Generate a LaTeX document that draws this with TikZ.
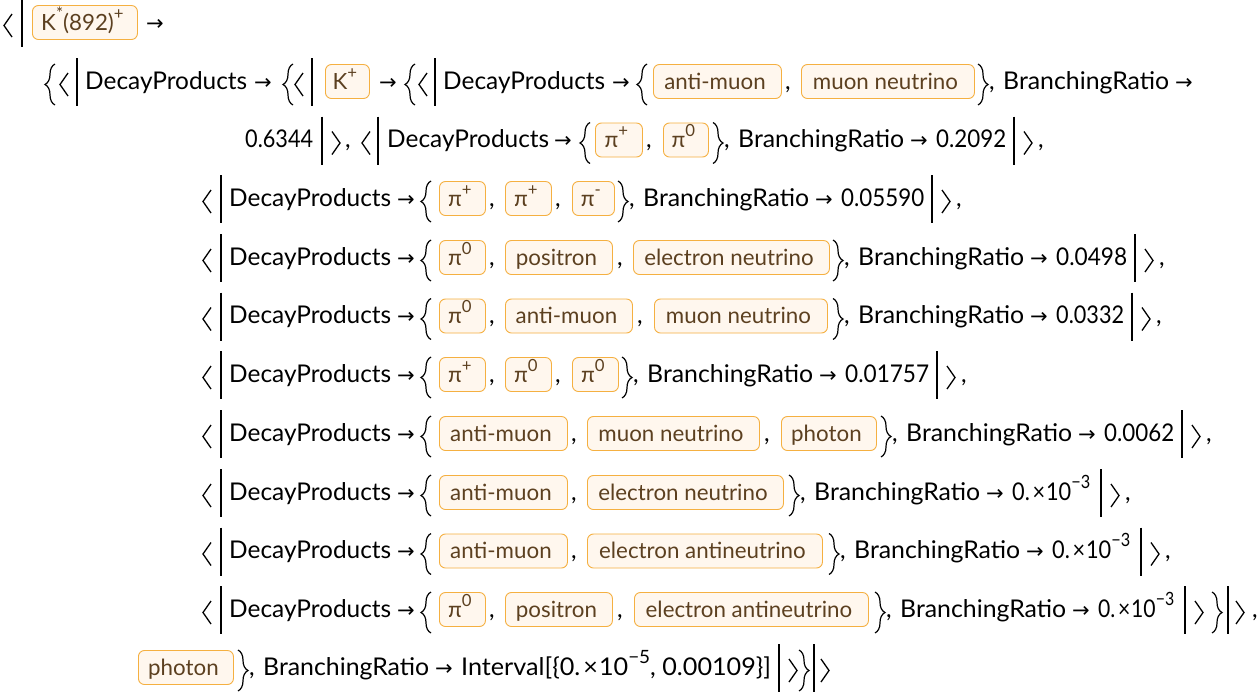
\documentclass[tikz,border=0pt]{standalone}
\usepackage{fontspec}
\setmainfont{Lato}
\newfontfamily\arrfont{DejaVu Sans}
\usetikzlibrary{decorations.pathreplacing}
\definecolor{entb}{HTML}{F5B041}
\definecolor{entf}{HTML}{FFF7EE}
\definecolor{entt}{HTML}{5C4020}
\newlength\dpw
\newlength\mnw
\newsavebox\fitbx
\newcommand\fitto[2]{\sbox\fitbx{#2}\pgfmathsetmacro\fitr{(#1)/\wd\fitbx}\scalebox{\fitr}[1]{\usebox\fitbx}}
\newcommand\sups[1]{\raisebox{0.48em}{\scalebox{0.75}{#1}}}
\newcommand\sci[1]{0.\kern3pt×\kern1pt10\sups{−#1}}
% delimiters
\newcommand\LA[2]{\draw[delim] (#1+8,#2-16) -- (#1,#2-4.5) -- (#1+8,#2+7);}
\newcommand\RA[2]{\draw[delim] (#1,#2-16) -- (#1+8,#2-4.5) -- (#1,#2+7);}
\newcommand\BAR[2]{\draw[barl] (#1,#2-31) -- (#1,#2+17);}
\newcommand\LB[2]{\draw[lbr] (#1+10,#2+16) -- (#1+10,#2-25);}
\newcommand\RB[2]{\draw[lbr] (#1,#2-25) -- (#1,#2+16);}
% texts
\newcommand\T[4]{\node[txt] (#1) at (#2,#3) {#4};}
\newcommand\A[3]{\node[arr] (#1) at (#2,#3) {→};}
\newcommand\E[5]{\node[ent, minimum width={(#3-#2)*1pt}] (#1) at (#2,#4) {#5\kern5pt};}
\newcommand\BR{\fitto{166}{BranchingRatio}}
\newcommand\HEAD[2]{\LA{203}{#2}\BAR{221}{#2}\T{#1d}{229}{#2}{DecayProducts}\A{#1a}{397}{#2}\LB{421}{#2}}
% id, baseline, brace x, value, bar x, gap before bar
\newcommand\TAIL[6]{\RB{#3}{#2}\T{#1c}{#3+11}{#2}{,}\T{#1br}{#3+25}{#2}{\BR}%
 \A{#1ar}{#3+197}{#2}\T{#1v}{#3+223}{#2}{\fitto{#5-#6-#3-223}{#4}}\BAR{#5}{#2}\RA{#5+10}{#2}}
\begin{document}
\settowidth\dpw{\fontsize{20pt}{24pt}\selectfont DecayProducts}%
\settowidth\mnw{\fontsize{20pt}{24pt}\selectfont muon neutrino}%
\pgfmathsetmacro\fs{20*162/\dpw}%
\pgfmathsetmacro\efs{20*145/\mnw}%
\begin{tikzpicture}[x=1pt,y=-1pt]
\tikzset{
 txt/.style={inner sep=0pt, anchor=base west, font=\fontsize{\fs pt}{\fs pt}\selectfont},
 arr/.style={inner sep=0pt, anchor=base west, font=\arrfont\fontsize{21pt}{21pt}\selectfont},
 ent/.style={draw=entb, fill=entf, text=entt, rounded corners=6pt, line width=0.9pt,
   inner xsep=0pt, inner ysep=0pt, text height=24.5pt, text depth=9.5pt, anchor=base west,
   font=\fontsize{\efs pt}{\efs pt}\selectfont},
 delim/.style={line width=1.3pt},
 barl/.style={line width=2pt},
 lbr/.style={line width=1.2pt, decorate, decoration={brace, amplitude=10pt}},
}
\fill[white] (0,0) rectangle (1258,694);
\useasboundingbox (0,0) rectangle (1258,694);
% line 1
\LA{4}{30}\BAR{21.5}{30}
\E{k892}{32}{137}{30}{K\sups{*}(892)\sups{+}}
\A{l1a}{146}{30}
% line 2
\LB{45}{89}\LA{60}{89}\BAR{77}{89}
\T{l2d}{85}{89}{DecayProducts}\A{l2a}{254}{89}
\LB{283}{89}\LA{295}{89}\BAR{312}{89}
\E{kp}{325}{369}{89}{K\sups{+}}
\A{l2b}{379}{89}
\LB{405}{89}\LA{419}{89}\BAR{435}{89}
\T{l2e}{443}{89}{DecayProducts}\A{l2c}{612}{89}\LB{637}{89}
\E{l2m}{653}{781}{89}{anti-muon}\T{l2k}{785}{89}{,}
\E{l2n}{801}{974}{89}{muon neutrino}
\RB{978}{89}\T{l2k2}{989}{89}{,}\T{l2br}{1003}{89}{\BR}\A{l2f}{1175}{89}
% line 3
\T{l3v0}{245}{147.5}{\fitto{68}{0.6344}}\BAR{322}{147.5}\RA{332}{147.5}\T{l3k0}{345}{147.5}{,}
\LA{362}{147.5}\BAR{378}{147.5}\T{l3d}{387}{147.5}{DecayProducts}\A{l3a}{554}{147.5}
\LB{580}{147.5}
\E{l3p1}{595}{642}{147.5}{π\sups{+}}\T{l3k1}{646}{147.5}{,}
\E{l3p2}{663}{708}{147.5}{π\sups{0}}
\TAIL{l3}{147.5}{713}{0.2092}{1014}{8}\T{l3k3}{1038}{147.5}{,}
% line 4
\HEAD{l4}{206}
\E{l4a}{439}{485}{206}{π\sups{+}}\T{l4k1}{489}{206}{,}
\E{l4b}{505}{551}{206}{π\sups{+}}\T{l4k2}{555}{206}{,}
\E{l4e}{572}{614}{206}{π\sups{-}}
\TAIL{l4}{206}{618}{0.05590}{932}{8}\T{l4k3}{956}{206}{,}
% line 5
\HEAD{l5}{265}
\E{l5a}{439}{485}{265}{π\sups{0}}\T{l5k1}{489}{265}{,}
\E{l5b}{505}{612}{265}{positron}\T{l5k2}{617}{265}{,}
\E{l5e}{633}{829}{265}{electron neutrino}
\TAIL{l5}{265}{833}{0.0498}{1135}{8}\T{l5k3}{1159}{265}{,}
% line 6
\HEAD{l6}{323.5}
\E{l6a}{439}{485}{323.5}{π\sups{0}}\T{l6k1}{489}{323.5}{,}
\E{l6b}{505}{632}{323.5}{anti-muon}\T{l6k2}{637}{323.5}{,}
\E{l6e}{654}{827}{323.5}{muon neutrino}
\TAIL{l6}{323.5}{833}{0.0332}{1132}{8}\T{l6k3}{1156}{323.5}{,}
% line 7
\HEAD{l7}{382}
\E{l7a}{439}{485}{382}{π\sups{+}}\T{l7k1}{489}{382}{,}
\E{l7b}{505}{551}{382}{π\sups{0}}\T{l7k2}{555}{382}{,}
\E{l7e}{572}{618}{382}{π\sups{0}}
\TAIL{l7}{382}{622}{0.01757}{937}{8}\T{l7k3}{961}{382}{,}
% line 8
\HEAD{l8}{441}
\E{l8a}{439}{567}{441}{anti-muon}\T{l8k1}{571}{441}{,}
\E{l8b}{587}{759}{441}{muon neutrino}\T{l8k2}{764}{441}{,}
\E{l8e}{781}{876}{441}{photon}
\TAIL{l8}{441}{881}{0.0062}{1182}{8}\T{l8k3}{1206}{441}{,}
% line 9
\HEAD{l9}{500}
\E{l9a}{439}{567}{500}{anti-muon}\T{l9k1}{571}{500}{,}
\E{l9b}{587}{783}{500}{electron neutrino}
\TAIL{l9}{500}{789}{\sci{3}}{1101}{11}\T{l9k3}{1125}{500}{,}
% line 10
\HEAD{l10}{558.5}
\E{l10a}{439}{567}{558.5}{anti-muon}\T{l10k1}{571}{558.5}{,}
\E{l10b}{587}{822}{558.5}{electron antineutrino}
\TAIL{l10}{558.5}{829}{\sci{3}}{1141}{11}\T{l10k3}{1165}{558.5}{,}
% line 11
\HEAD{l11}{617}
\E{l11a}{439}{485}{617}{π\sups{0}}\T{l11k1}{489}{617}{,}
\E{l11b}{505}{612}{617}{positron}\T{l11k2}{617}{617}{,}
\E{l11e}{634}{868}{617}{electron antineutrino}
\TAIL{l11}{617}{875}{\sci{3}}{1185}{11}
\RB{1212}{617}\BAR{1228}{617}\RA{1236}{617}\T{l11k3}{1252}{617}{,}
% line 12
\E{ph}{138}{233}{675}{photon}
\TAIL{l12}{675}{238}{Interval[\{\sci{5}, 0.00109\}]}{779}{8}
\RB{799}{675}\BAR{814}{675}\RA{821}{675}
\end{tikzpicture}
\end{document}
